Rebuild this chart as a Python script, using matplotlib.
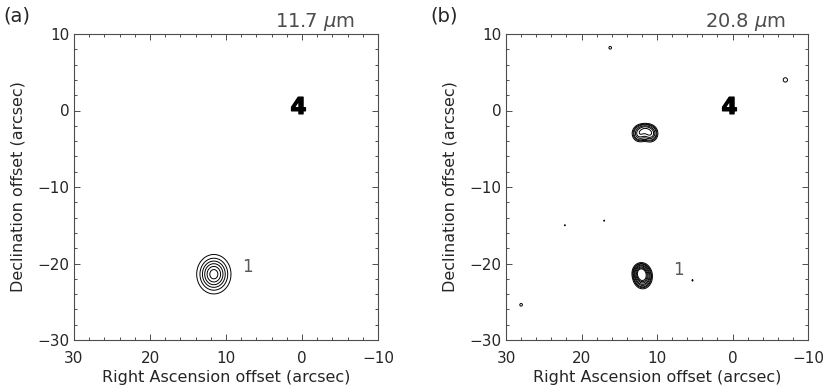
import numpy as np
import matplotlib.pyplot as plt
from matplotlib.ticker import MultipleLocator

plt.rcParams['font.family'] = ['DejaVu Sans']
plt.rcParams['text.color'] = '0.15'
plt.rcParams['axes.labelcolor'] = '0.15'
plt.rcParams['xtick.labelcolor'] = '0.15'
plt.rcParams['ytick.labelcolor'] = '0.15'

# sources: x, y (arcsec), sigma_x, sigma_y, peak
src_a_x = [11.6]
src_a_y = [-21.4]
src_a_sx = [1.05]
src_a_sy = [1.2]
src_a_amp = [1.0]
levels_a = [0.1, 0.22, 0.36, 0.52, 0.7, 0.88]

src_b_x = [10.9, 12.3, 11.6, 11.9, 12.2, 16.2, -7.0, 22.2, 17.0, 28.0, 5.3]
src_b_y = [-3.0, -3.0, -2.4, -21.7, -21.1, 8.2, 4.0, -15.0, -14.4, -25.4, -22.2]
src_b_sx = [0.55, 0.55, 0.5, 0.6, 0.5, 0.3, 0.35, 0.2, 0.2, 0.3, 0.2]
src_b_sy = [0.6, 0.6, 0.4, 0.75, 0.55, 0.3, 0.35, 0.2, 0.2, 0.3, 0.25]
src_b_amp = [0.55, 0.5, 0.3, 1.0, 0.6, 0.12, 0.14, 0.11, 0.11, 0.12, 0.11]
levels_b = [0.1, 0.15, 0.2, 0.3, 0.4, 0.55, 0.7, 0.85]

star_x, star_y = 0.5, 0.7
label_pos = {'a': (7.9, -20.4), 'b': (7.9, -20.9)}
wavelengths = {'a': '11.7 $\\mu$m', 'b': '20.8 $\\mu$m'}

gx = np.linspace(-10, 30, 401)
gy = np.linspace(-30, 10, 401)
X, Y = np.meshgrid(gx, gy)


def field(xs, ys, sxs, sys_, amps):
    Z = np.zeros_like(X)
    for x0, y0, sx, sy, a in zip(xs, ys, sxs, sys_, amps):
        Z += a * np.exp(-((X - x0) ** 2 / (2 * sx ** 2) + (Y - y0) ** 2 / (2 * sy ** 2)))
    return Z


fig = plt.figure(figsize=(8.3, 3.89), dpi=100)
ax_a = fig.add_axes([74 / 830, 49 / 389, 304 / 830, 306 / 389])
ax_b = fig.add_axes([506 / 830, 49 / 389, 302 / 830, 306 / 389])

Za = field(src_a_x, src_a_y, src_a_sx, src_a_sy, src_a_amp)
Zb = field(src_b_x, src_b_y, src_b_sx, src_b_sy, src_b_amp)
ax_a.contour(X, Y, Za, levels=levels_a, colors='k', linewidths=0.7)
ax_b.contour(X, Y, Zb, levels=levels_b, colors='k', linewidths=0.7)

for key, ax in (('a', ax_a), ('b', ax_b)):
    ax.plot(star_x, star_y, marker='$\\mathbf{4}$', color='k', markersize=12)
    ax.text(*label_pos[key], '1', fontsize=12, color='0.35', ha='left', va='center')
    ax.set_xlim(30, -10)
    ax.set_ylim(-30, 10)
    ax.set_xticks([30, 20, 10, 0, -10])
    ax.set_yticks([-30, -20, -10, 0, 10])
    ax.xaxis.set_minor_locator(MultipleLocator(2))
    ax.yaxis.set_minor_locator(MultipleLocator(2))
    ax.tick_params(which='both', direction='in', top=True, right=True,
                   labelsize=11, width=0.7, color='0.3')
    ax.tick_params(axis='x', which='major', length=4.5, pad=8)
    ax.tick_params(axis='y', which='major', length=4.5, pad=3)
    ax.tick_params(which='minor', length=2)
    for s in ax.spines.values():
        s.set_linewidth(0.8)
        s.set_color('0.3')
    ax.set_xlabel('Right Ascension offset (arcsec)', fontsize=11.5, labelpad=3)
    ax.set_ylabel('Declination offset (arcsec)', fontsize=11.5, labelpad=9)
    ax.text(0.925, 1.04, wavelengths[key], transform=ax.transAxes,
            fontsize=14, color='0.3', ha='right', va='center')

fig.text(3 / 830, 1 - 16 / 389, '(a)', fontsize=14, va='center', ha='left')
fig.text(430 / 830, 1 - 16 / 389, '(b)', fontsize=14, va='center', ha='left')

fig.savefig('out.png', dpi=100)
